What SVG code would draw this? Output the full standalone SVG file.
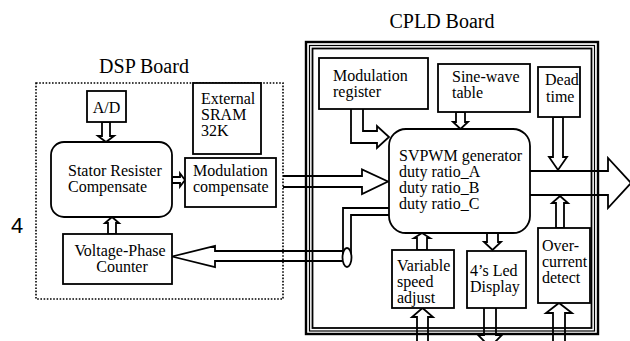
<svg xmlns="http://www.w3.org/2000/svg" width="630" height="341" viewBox="0 0 630 341">
<style>
.box{fill:#fff;stroke:#000;stroke-width:1.8}
.t{font-family:"Liberation Serif","Times New Roman",serif;font-size:16px;fill:#000}
.title{font-family:"Liberation Serif","Times New Roman",serif;font-size:20px;fill:#000}
.ar{fill:#fff;stroke:#000;stroke-width:1.8;stroke-linejoin:miter}
.ln{fill:none;stroke:#000;stroke-width:1.8;stroke-linejoin:miter}
</style>
<rect width="630" height="341" fill="#fff"/>
<g id="titles">
<text class="title" x="144" y="73" text-anchor="middle">DSP Board</text>
<text class="title" x="442" y="28" text-anchor="middle">CPLD Board</text>
<text x="17" y="233" text-anchor="middle" font-family="Liberation Sans, Arial, sans-serif" font-size="22">4</text>
</g>
<g id="dsp-board">
<rect x="36" y="83" width="247" height="216" fill="none" stroke="#000" stroke-width="1.6" stroke-dasharray="1.6 1.6"/>
</g>
<g id="cpld-board">
<rect x="306" y="42" width="292" height="292" fill="none" stroke="#000" stroke-width="2.4"/>
<rect x="309.5" y="45.5" width="285" height="285.5" fill="none" stroke="#000" stroke-width="1.2"/>
<rect x="312.5" y="48.5" width="279" height="279.5" fill="none" stroke="#000" stroke-width="1.8"/>
</g>
<g id="connectors">
<polygon class="ar" points="102,122 110,122 110,136 114,136 106,142 98,136 102,136"/>
<polygon class="ar" points="172,177 180,177 180,173.5 185,180 180,186.5 180,183 172,183"/>
<polygon class="ar" points="108,234 116,234 116,223 119,223 112,217 105,223 108,223"/>
<path class="ln" d="M283,176 H362 V169.5 L388,181.5 L362,194 V187 H283"/>
<path class="ln" d="M343,251 H215 V246 L172,256.5 L215,267 V261 H343"/>
<path class="ln" d="M343,257 V208 H389 M351,257 V215 H389"/>
<ellipse cx="347" cy="257.5" rx="4.5" ry="9.5" fill="#fff" stroke="#000" stroke-width="1.8"/>
<path class="ar" d="M351,109 V143 H377 V148 L389,137 L377,126 V131 H363 V109"/>
<polygon class="ar" points="456,112 465,112 465,122 468,122 460.5,129 453,122 456,122"/>
<polygon class="ar" points="553,117 563,117 563,157 567,157 558,170 549,157 553,157"/>
<path class="ln" d="M530,171 H608 V158 L631,183 L608,208 V195 H530"/>
<polygon class="ar" points="556,228 564,228 564,203 568,203 560,196 552,203 556,203"/>
<polygon class="ar" points="417,250 427,250 427,238 430,238 422,233 414,238 417,238"/>
<polygon class="ar" points="487,233 498,233 498,242 501,242 492.5,250 484,242 487,242"/>
<path class="ln" d="M417,345 V317 H412 L422.5,308 L433,317 H428 V345"/>
<path class="ln" d="M484,308 V335 H478 L490,347 L502,335 H496 V308"/>
<path class="ln" d="M553,345 V313 H546 L559,303 L572,313 H565 V345"/>
</g>
<g id="ad"><rect class="box" x="87" y="91" width="39" height="31"/><text class="t" x="106.5" y="113" text-anchor="middle">A/D</text></g>
<g id="sram"><rect class="box" x="193" y="83" width="68" height="71"/><text class="t" x="201" y="104">External</text><text class="t" x="201" y="120">SRAM</text><text class="t" x="201" y="136">32K</text></g>
<g id="stator"><rect class="box" x="51" y="142" width="121" height="75" rx="13"/><text class="t" x="68" y="176">Stator Resister</text><text class="t" x="68" y="192">Compensate</text></g>
<g id="modcomp"><rect class="box" x="185" y="158" width="91" height="49"/><text class="t" x="193" y="176">Modulation</text><text class="t" x="193" y="192">compensate</text></g>
<g id="vpc"><rect class="box" x="63" y="234" width="109" height="50"/><text class="t" x="120" y="256" text-anchor="middle">Voltage-Phase</text><text class="t" x="122" y="272" text-anchor="middle">Counter</text></g>
<g id="modreg"><rect class="box" x="319" y="58" width="109" height="51"/><text class="t" x="333" y="81">Modulation</text><text class="t" x="333" y="97">register</text></g>
<g id="sine"><rect class="box" x="438" y="64" width="92" height="48"/><text class="t" x="452" y="82">Sine-wave</text><text class="t" x="452" y="98">table</text></g>
<g id="dead"><rect class="box" x="538" y="67" width="42" height="50"/><text class="t" x="545" y="85">Dead</text><text class="t" x="546" y="102">time</text></g>
<g id="svpwm"><rect class="box" x="389" y="129" width="141" height="104" rx="17"/><text class="t" x="399" y="161">SVPWM generator</text><text class="t" x="399" y="177">duty ratio_A</text><text class="t" x="399" y="193">duty ratio_B</text><text class="t" x="399" y="209">duty ratio_C</text></g>
<g id="overcurrent"><rect class="box" x="538" y="228" width="52" height="75"/><text class="t" x="542" y="251">Over-</text><text class="t" x="542" y="267">current</text><text class="t" x="542" y="283">detect</text></g>
<g id="speed"><rect class="box" x="392" y="250" width="62" height="58"/><text class="t" x="397" y="271">Variable</text><text class="t" x="397" y="287">speed</text><text class="t" x="397" y="303">adjust</text></g>
<g id="led"><rect class="box" x="467" y="251" width="59" height="57"/><text class="t" x="470" y="276">4’s Led</text><text class="t" x="470" y="292">Display</text></g>
</svg>
